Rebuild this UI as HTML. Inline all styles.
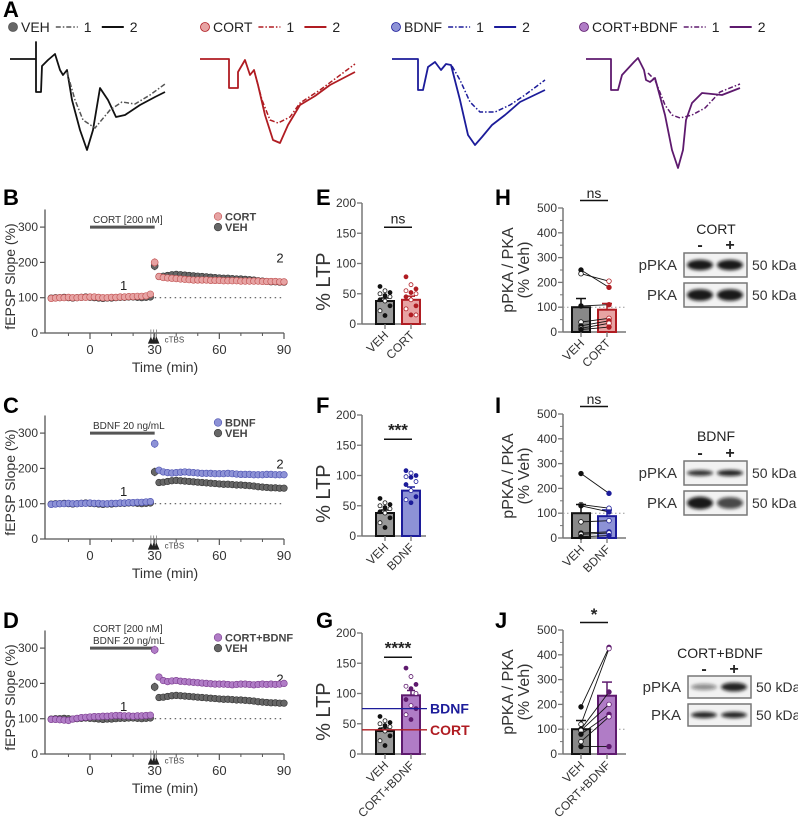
<!DOCTYPE html>
<html><head><meta charset="utf-8"><style>
body{margin:0;background:#fff;}
svg{display:block;font-family:"Liberation Sans",Arial,sans-serif;}
</style></head><body>
<svg id="fig" width="798" height="822" viewBox="0 0 798 822" xmlns="http://www.w3.org/2000/svg">
<defs><filter id="blr" x="-20%" y="-50%" width="140%" height="200%"><feGaussianBlur stdDeviation="1.6"/></filter></defs>
</svg>
<script>
// ---------- Time-course data ----------
const tBase = [-18,-16,-14,-12,-10,-8,-6,-4,-2,0,2,4,6,8,10,12,14,16,18,20,22,24,26,28];
const tPost = [32,34,36,38,40,42,44,46,48,50,52,54,56,58,60,62,64,66,68,70,72,74,76,78,80,82,84,86,88,90];
const vehBase = [99,100,100,101,100,99,100,101,102,101,100,99,98,99,99,100,101,101,102,102,101,100,101,102];
const vehPeak = 190;
const vehPost = [160,161,163,165,166,165,164,163,162,161,160,159,158,157,156,155,155,154,153,153,152,151,150,148,147,146,145,145,144,144];
const cortBase = [98,99,100,100,101,100,100,101,101,102,102,101,100,100,101,101,102,102,103,103,104,104,105,110];
const cortPeak = 200;
const cortPost = [160,157,156,155,154,153,152,151,150,150,150,150,149,149,149,148,148,148,148,147,147,147,147,147,146,146,146,146,145,145];
const bdnfBase = [98,99,100,100,101,100,100,101,101,102,101,101,100,100,101,101,102,102,103,103,104,104,105,106];
const bdnfPeak = 270;
const bdnfPost = [195,190,188,187,188,189,190,189,188,187,186,186,186,185,185,185,186,185,184,183,183,183,182,182,182,183,183,182,182,182];
const cbBase = [98,98,97,96,95,99,101,103,104,105,106,106,107,107,108,109,109,108,108,107,108,108,109,110];
const cbPeak = 295;
const cbPost = [218,208,205,207,208,206,205,204,203,202,201,200,199,198,198,198,197,196,197,198,198,197,196,197,198,197,198,197,198,200];
const timeTicks = [0,30,60,90];
const slopeTicks = [0,100,200,300];
// ---------- LTP bar data ----------
const ltpCats = ["VEH","CORT","BDNF","CORT+BDNF"];
const ltpMeans = [38,40,75,97];
const ltpErr = [5,6,6,8];
const ltpDotsVEH = [62,55,52,50,47,45,40,38,30,22,14];
const ltpDotsCORT = [78,65,58,55,52,50,45,40,30,25,15,15];
const ltpDotsBDNF = [108,104,100,98,97,90,85,75,65,60,55];
const ltpDotsCB = [142,128,115,112,108,100,90,80,75,65,57];
const ltpTicks = [0,50,100,150,200];
// ---------- pPKA data ----------
const pkaMeans = [100,90,88,235];
const pkaErr = [35,25,25,55];
const pkaVehH = [250,235,105,40,25,15,10];
const pkaCortH = [180,205,110,55,45,35,20];
const pkaVehI = [260,135,130,65,20,15,5];
const pkaBdnfI = [180,120,105,70,25,20,10];
const pkaVehJ = [190,120,100,95,80,50,30];
const pkaCbJ = [430,425,250,200,160,150,30];
const pkaTicks = [0,100,200,300,400,500];

const NS="http://www.w3.org/2000/svg";
const fig=document.getElementById('fig');
function mk(tag,attrs,parent){const e=document.createElementNS(NS,tag);for(const k in attrs)e.setAttribute(k,attrs[k]);(parent||fig).appendChild(e);return e;}
function txt(x,y,s,size,anchor,fill,parent,extra){const t=mk('text',Object.assign({x:x,y:y,'font-size':size,'text-anchor':anchor||'start',fill:fill||'#333'},extra||{}),parent);t.textContent=s;return t;}
function grp(name){const g=mk('g',{});return g;}

const C={veh:'#555',vehFill:'#777',cort:'#b01c22',cortFill:'#e7a3a3',bdnf:'#1c1c9a',bdnfFill:'#8d92d6',cb:'#5e1a6e',cbFill:'#b07cc6'};

// Panel letters
[['A',3,17],['B',3,205],['C',3,413],['D',3,628],['E',316,205],['F',316,413],['G',316,628],['H',495,205],['I',495,413],['J',495,628]].forEach(p=>{
  const t=txt(p[1],p[2],p[0],22,'start','#000',null,{'font-weight':'bold'});
  
  
});

// ---------- Panel A traces ----------
const traces=[
 {name:'veh',x:8,label:'VEH',col:'#111',lcol:'#555',fill:'#666',
  s:[[10,59],[36,59],[36,42],[36,92],[41,92],[42,66],[48,60],[55,54],[60,70],[63,75],[67,70],[72,100],[80,130],[87,150],[93,130],[100,88],[108,100],[116,117],[125,115],[140,105],[155,97],[165,92]],
  d:[[67,72],[75,100],[83,120],[95,128],[110,110],[122,102],[135,104],[150,95],[165,84]]},
 {name:'cort',x:200,label:'CORT',col:C.cort,lcol:C.cort,fill:C.cortFill,
  s:[[200,59],[229,59],[229,88],[238,88],[238,72],[245,60],[250,75],[254,70],[258,85],[265,115],[273,140],[280,143],[288,125],[300,105],[315,96],[330,85],[355,72]],
  d:[[254,70],[262,100],[270,120],[278,123],[290,117],[300,103],[320,90],[355,64]]},
 {name:'bdnf',x:391,label:'BDNF',col:C.bdnf,lcol:C.bdnf,fill:C.bdnfFill,
  s:[[392,59],[418,59],[418,90],[423,90],[428,67],[435,62],[441,70],[446,64],[451,65],[460,100],[468,135],[475,145],[482,137],[492,125],[505,115],[520,102],[545,90]],
  d:[[452,66],[460,80],[470,102],[480,112],[495,112],[510,105],[525,95],[545,80]]},
 {name:'cort-bdnf',x:579,label:'CORT+BDNF',col:C.cb,lcol:C.cb,fill:C.cbFill,
  s:[[586,59],[611,59],[611,90],[618,90],[622,75],[634,62],[638,58],[644,70],[646,80],[650,82],[655,78],[665,115],[672,150],[678,168],[683,150],[686,120],[692,103],[702,93],[712,94],[722,95],[740,88]],
  d:[[648,73],[655,80],[665,105],[672,115],[680,118],[692,115],[705,108],[720,92],[740,84]]}
];
traces.forEach(tr=>{
  const g=grp('trace-panel-'+tr.name);
  const p2=mk('polyline',{points:tr.s.map(p=>p.join(',')).join(' '),fill:'none',stroke:tr.col,'stroke-width':1.8,'stroke-linejoin':'round'},g);
  
  
  const p1=mk('polyline',{points:tr.d.map(p=>p.join(',')).join(' '),fill:'none',stroke:tr.lcol,'stroke-width':1.5,'stroke-dasharray':'5,2,1.5,2'},g);
  
  
  const lg=grp('legend-'+tr.name);
  mk('circle',{cx:tr.x+5,cy:27,r:4.5,fill:tr.fill,stroke:tr.lcol,'stroke-width':0.8},lg);
  const lw=txt(tr.x+13,32,tr.label,14,'start','#222',lg);
  const bx=tr.x+13+lw.getComputedTextLength()+6;
  mk('line',{x1:bx,y1:27,x2:bx+22,y2:27,stroke:tr.lcol,'stroke-width':1.5,'stroke-dasharray':'5,2,1.5,2'},lg);
  txt(bx+28,32,'1',14,'start','#222',lg);
  mk('line',{x1:bx+46,y1:27,x2:bx+68,y2:27,stroke:tr.col,'stroke-width':2},lg);
  txt(bx+74,32,'2',14,'start','#222',lg);
});

// ---------- Time-course panels ----------
function timePanel(name,y0,treatBase,treatPeak,treatPost,col,fill,legendLabel,drugLines){
  const g=grp('timecourse-'+name);
  const xs=t=>90+(t)*(284-90)/90;
  const ys=v=>y0-v*0.353;
  mk('line',{x1:45,y1:ys(350),x2:45,y2:y0,stroke:'#555','stroke-width':1.3},g);
  mk('line',{x1:45,y1:y0,x2:284,y2:y0,stroke:'#555','stroke-width':1.3},g);
  slopeTicks.forEach(v=>{mk('line',{x1:40,y1:ys(v),x2:45,y2:ys(v),stroke:'#555','stroke-width':1.2},g);txt(38,ys(v)+4,String(v),12,'end','#333',g);});
  [-10,10,20,40,50,70,80].forEach(v=>mk('line',{x1:xs(v),y1:y0,x2:xs(v),y2:y0+3,stroke:'#555'},g));
  timeTicks.forEach(v=>{mk('line',{x1:xs(v),y1:y0,x2:xs(v),y2:y0+6,stroke:'#555','stroke-width':1.2},g);txt(xs(v),y0+21,String(v),13,'middle','#333',g);});
  const xt=txt(165,y0+39,'Time (min)',14,'middle','#333',g);
  
  
  const yt=txt(0,0,'fEPSP Slope (%)',14,'middle','#333',g,{transform:'translate(15,'+(ys(160))+') rotate(-90)'});
  
  
  mk('line',{x1:xs(30),y1:ys(100),x2:284,y2:ys(100),stroke:'#555','stroke-width':1.2,'stroke-dasharray':'1.5,3.5'},g);
  mk('line',{x1:xs(0),y1:ys(300),x2:xs(30),y2:ys(300),stroke:'#555','stroke-width':3},g);
  drugLines.forEach((s,i)=>txt(xs(0)+3,ys(300)-4-(drugLines.length-1-i)*12,s,10,'start','#333',g));
  [-2,0,2].forEach(d=>{const x=xs(30)+d*1.4-1;mk('line',{x1:x,y1:ys(-30),x2:x,y2:ys(10),stroke:'#777','stroke-width':0.8},g);mk('polygon',{points:(x-3)+','+ys(-30)+' '+(x+3)+','+ys(-30)+' '+x+','+(ys(-30)-7),fill:'#222'},g);});
  txt(xs(30)+10,ys(-30)-1,'cTBS',8,'start','#444',g);
  txt(xs(0)+30,ys(110)-4,'1',13,'start','#222',g);
  txt(280,ys(185)-5,'2',13,'middle','#222',g);
  function series(base,peak,post,stroke,fl,nm){
    const sg=grp('series-'+nm);
    g.appendChild(sg);
    mk('line',{x1:xs(30),y1:ys(peak-12),x2:xs(30),y2:ys(peak+12),stroke:fl,'stroke-width':1.5},sg);
    base.forEach((v,i)=>{mk('circle',{cx:xs(tBase[i]),cy:ys(v),r:3.3,fill:fl,stroke:stroke,'stroke-width':0.6},sg);});
    mk('circle',{cx:xs(30),cy:ys(peak),r:3.5,fill:fl,stroke:stroke,'stroke-width':0.6},sg);
    post.forEach((v,i)=>{mk('circle',{cx:xs(tPost[i]),cy:ys(v),r:3.3,fill:fl,stroke:stroke,'stroke-width':0.6},sg);});
  }
  series(vehBase,vehPeak,vehPost,'#333','#666','veh');
  series(treatBase,treatPeak,treatPost,col,fill,name);
  const lg=grp('legend-'+name);g.appendChild(lg);
  mk('circle',{cx:218,cy:ys(330),r:3.8,fill:fill,stroke:col,'stroke-width':0.6},lg);
  txt(225,ys(330)+4,legendLabel,11,'start','#444',lg,{'font-weight':'bold'});
  mk('circle',{cx:218,cy:ys(300),r:3.8,fill:'#666',stroke:'#333','stroke-width':0.6},lg);
  txt(225,ys(300)+4,'VEH',11,'start','#444',lg,{'font-weight':'bold'});
}
timePanel('cort',333,cortBase,cortPeak,cortPost,'#c05050',C.cortFill,'CORT',['CORT [200 nM]']);
timePanel('bdnf',539,bdnfBase,bdnfPeak,bdnfPost,'#4a4fb0',C.bdnfFill,'BDNF',['BDNF 20 ng/mL']);
timePanel('cort-bdnf',754,cbBase,cbPeak,cbPost,'#7a3a8e',C.cbFill,'CORT+BDNF',['CORT [200 nM]','BDNF 20 ng/mL']);

// ---------- LTP bar panels ----------
function ltpPanel(name,y0,ci,dotsT,col,fill,sig,refs){
  const g=grp('ltp-bars-'+name);
  const ax=362, sc=0.605;
  const ys=v=>y0-v*sc;
  mk('line',{x1:ax,y1:ys(200),x2:ax,y2:y0,stroke:'#777','stroke-width':1.5},g);
  mk('line',{x1:ax,y1:y0,x2:426,y2:y0,stroke:'#777','stroke-width':1.5},g);
  ltpTicks.forEach(v=>{mk('line',{x1:ax-5,y1:ys(v),x2:ax,y2:ys(v),stroke:'#777','stroke-width':1.3},g);txt(ax-6,ys(v)+4,String(v),12,'end','#333',g);});
  const yt=txt(0,0,'% LTP',20,'middle','#333',g,{transform:'translate(330,'+ys(70)+') rotate(-90)'});
  
  
  const bars=[{c:0,x:385,stroke:'#111',fill:'#999',dots:ltpDotsVEH,dc:'#111'},{c:ci,x:411,stroke:col,fill:fill,dots:dotsT,dc:col}];
  bars.forEach(b=>{
    const m=ltpMeans[b.c],e=ltpErr[b.c];
    const r=mk('rect',{x:b.x-9,y:ys(m),width:18,height:y0-ys(m),fill:b.fill,stroke:b.stroke,'stroke-width':2},g);
    
    
    mk('line',{x1:b.x,y1:ys(m),x2:b.x,y2:ys(m+e),stroke:b.stroke,'stroke-width':1.5},g);
    mk('line',{x1:b.x-4,y1:ys(m+e),x2:b.x+4,y2:ys(m+e),stroke:b.stroke,'stroke-width':1.5},g);
    b.dots.forEach((v,i)=>{const open=i%2===1;mk('circle',{cx:b.x+((i%3)-1)*5,cy:ys(v),r:2,fill:open?'#fff':b.dc,stroke:b.dc,'stroke-width':0.8},g);});
    mk('line',{x1:b.x,y1:y0,x2:b.x,y2:y0+5,stroke:'#777','stroke-width':1.3},g);
    txt(0,0,ltpCats[b.c],12,'end','#333',g,{transform:'translate('+(b.x+4)+','+(y0+12)+') rotate(-45)'});
  });
  mk('line',{x1:384,y1:ys(160),x2:412,y2:ys(160),stroke:'#111','stroke-width':1.5},g);
  txt(398,ys(166),sig,sig==='ns'?14:17,'middle','#222',g,sig==='ns'?{}:{'font-weight':'bold'});
  (refs||[]).forEach(rf=>{
    mk('line',{x1:ax,y1:ys(rf.v),x2:427,y2:ys(rf.v),stroke:rf.c,'stroke-width':1.3},g);
    txt(430,ys(rf.v)+5,rf.l,14,'start',rf.c,g,{'font-weight':'bold'});
  });
}
ltpPanel('cort',324,1,ltpDotsCORT,C.cort,C.cortFill,'ns');
ltpPanel('bdnf',536,2,ltpDotsBDNF,C.bdnf,C.bdnfFill,'***');
ltpPanel('cort-bdnf',754,3,ltpDotsCB,C.cb,C.cbFill,'****',[{v:ltpMeans[2],c:C.bdnf,l:'BDNF'},{v:ltpMeans[1],c:C.cort,l:'CORT'}]);

// ---------- pPKA panels ----------
function pkaPanel(name,y0,ci,vehPts,trPts,col,fill,sig,label){
  const g=grp('ppka-bars-'+name);
  const ax=563, sc=0.248;
  const ys=v=>y0-v*sc;
  mk('line',{x1:ax,y1:ys(500),x2:ax,y2:y0,stroke:'#777','stroke-width':1.5},g);
  mk('line',{x1:ax,y1:y0,x2:626,y2:y0,stroke:'#777','stroke-width':1.5},g);
  for(let v=50;v<500;v+=100)mk('line',{x1:ax-3,y1:ys(v),x2:ax,y2:ys(v),stroke:'#777'},g);
  pkaTicks.forEach(v=>{mk('line',{x1:ax-5,y1:ys(v),x2:ax,y2:ys(v),stroke:'#777','stroke-width':1.3},g);txt(ax-6,ys(v)+4,String(v),12,'end','#333',g);});
  const yt=txt(0,0,'pPKA / PKA',16,'middle','#333',g,{transform:'translate(513,'+ys(250)+') rotate(-90)'});
  
  
  txt(0,0,'(% Veh)',16,'middle','#333',g,{transform:'translate(529,'+ys(250)+') rotate(-90)'});
  mk('line',{x1:ax,y1:ys(100),x2:626,y2:ys(100),stroke:'#999','stroke-width':1,'stroke-dasharray':'1.5,2.5'},g);
  const xv=581,xt=607;
  const bars=[{x:xv,m:pkaMeans[0],e:35,stroke:'#111',fill:'#888',c:'VEH'},{x:xt,m:pkaMeans[ci],e:pkaErr[ci],stroke:col,fill:fill,c:label}];
  bars.forEach(b=>{
    const r=mk('rect',{x:b.x-9,y:ys(b.m),width:18,height:y0-ys(b.m),fill:b.fill,stroke:b.stroke,'stroke-width':2},g);
    
    
    mk('line',{x1:b.x,y1:ys(b.m),x2:b.x,y2:ys(b.m+b.e),stroke:b.stroke,'stroke-width':1.5},g);
    mk('line',{x1:b.x-5,y1:ys(b.m+b.e),x2:b.x+5,y2:ys(b.m+b.e),stroke:b.stroke,'stroke-width':1.5},g);
    mk('line',{x1:b.x,y1:y0,x2:b.x,y2:y0+5,stroke:'#777','stroke-width':1.3},g);
    txt(0,0,b.c,12,'end','#333',g,{transform:'translate('+(b.x+4)+','+(y0+12)+') rotate(-45)'});
  });
  vehPts.forEach((v,i)=>{
    const open=i%2===1;
    mk('line',{x1:xv,y1:ys(v),x2:xt+2,y2:ys(trPts[i]),stroke:'#111','stroke-width':0.9},g);
    mk('circle',{cx:xv,cy:ys(v),r:2.3,fill:open?'#fff':'#111',stroke:'#111','stroke-width':0.8},g);
    mk('circle',{cx:xt+2,cy:ys(trPts[i]),r:2.3,fill:open?'#fff':col,stroke:col,'stroke-width':0.8},g);
  });
  mk('line',{x1:580,y1:ys(530),x2:608,y2:ys(530),stroke:'#111','stroke-width':1.5},g);
  txt(594,ys(540),sig,sig==='ns'?14:17,'middle','#222',g,sig==='ns'?{}:{'font-weight':'bold'});
}
pkaPanel('cort',332,1,pkaVehH,pkaCortH,C.cort,C.cortFill,'ns','CORT');
pkaPanel('bdnf',538,2,pkaVehI,pkaBdnfI,C.bdnf,C.bdnfFill,'ns','BDNF');
pkaPanel('cort-bdnf',754,3,pkaVehJ,pkaCbJ,C.cb,C.cbFill,'*','CORT+BDNF');

// ---------- Western blots ----------
function blot(name,x,title,titleY,pmY,r1,r2,rh,pInt,tInt){
  const g=grp('western-blot-'+name);
  txt(x+32,titleY,title,14,'middle','#222',g);
  txt(x+16,pmY,'-',16,'middle','#222',g,{'font-weight':'bold'});
  txt(x+46,pmY,'+',16,'middle','#222',g,{'font-weight':'bold'});
  [[r1,'pPKA',pInt],[r2,'PKA',tInt]].forEach(row=>{
    const ry=row[0];
    mk('rect',{x:x,y:ry,width:63,height:rh,fill:'#f2f2f2',stroke:'#777','stroke-width':1.5},g);
    row[2].forEach((k,i)=>{
      const b=mk('ellipse',{cx:x+16+i*30,cy:ry+rh/2,rx:13,ry:rh*0.2*k[1],fill:'#111','fill-opacity':k[0],filter:'url(#blr)'},g);
      
      
    });
    txt(x-7,ry+rh/2+5,row[1],15,'end','#333',g);
    txt(x+68,ry+rh/2+5,'50 kDa',14,'start','#333',g);
  });
}
blot('cort',684,'CORT',234,250,253,283,24,[[0.95,1.1],[0.95,1.1]],[[0.95,1.2],[0.95,1.2]]);
blot('bdnf',684,'BDNF',441,458,461,491,24,[[0.85,0.6],[0.9,0.65]],[[0.95,1.3],[0.75,1.2]]);
blot('cort-bdnf',688,'CORT+BDNF',658,674,676,704,22,[[0.45,0.7],[0.9,1.0]],[[0.9,0.7],[0.9,0.7]]);
</script>
</body></html>
